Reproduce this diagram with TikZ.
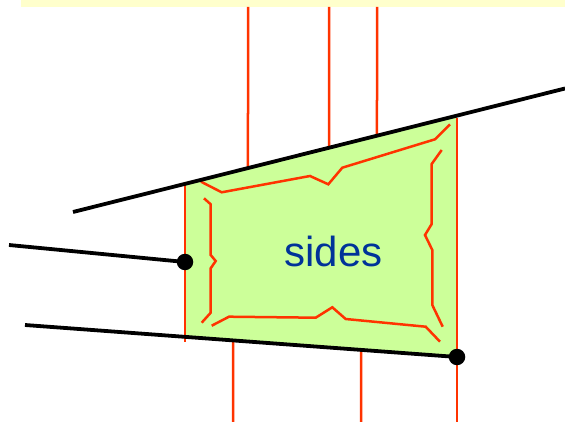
\documentclass[tikz,border=0pt]{standalone}
\usepackage{fontspec}
\setmainfont{Liberation Sans}
\usetikzlibrary{calc}
\definecolor{redl}{RGB}{255,51,0}
\definecolor{greenf}{RGB}{204,255,153}
\definecolor{yellowf}{RGB}{255,255,204}
\definecolor{bluet}{RGB}{0,51,153}
\begin{document}
\begin{tikzpicture}[x=1pt,y=-1pt,
  blackline/.style={line width=3.8pt,black},
  redline/.style={line width=2.5pt,redl},
  dotnode/.style={circle,fill=black,inner sep=0pt,minimum size=16.5pt}]
\useasboundingbox (0,0) rectangle (565,422);
% yellow band
\fill[yellowf] (21,0) rectangle (565,7);
% main line end points
\coordinate (U1) at (73,212);
\coordinate (U2) at (565,88.5);
\coordinate (L1) at (25,325);
\coordinate (M1) at (9,245);
% corners of the green region
\coordinate (GTL) at ($(U1)!{(185-73)/(565-73)}!(U2)$);
\coordinate (GTR) at ($(U1)!{(457-73)/(565-73)}!(U2)$);
\coordinate (GBR) at (457,357);
\coordinate (GBL) at ($(L1)!{(185-25)/(457-25)}!(GBR)$);
\fill[greenf] (GTL) -- (GTR) -- (GBR) -- (GBL) -- cycle;
% top red lines
\coordinate (T1) at (248,7);
\coordinate (T2) at (329,7);
\coordinate (T3) at (377,7);
\coordinate (T1e) at ($(U1)!{(248-73)/(565-73)}!(U2)$);
\coordinate (T2e) at ($(U1)!{(329-73)/(565-73)}!(U2)$);
\coordinate (T3e) at ($(U1)!{(377-73)/(565-73)}!(U2)$);
\draw[redline] (T1) -- (T1e);
\draw[redline] (T2) -- (T2e);
\draw[redline] (T3) -- (T3e);
% bottom red lines
\coordinate (B1) at ($(L1)!{(233-25)/(457-25)}!(GBR)$);
\coordinate (B2) at ($(L1)!{(361-25)/(457-25)}!(GBR)$);
\coordinate (B1e) at (233,422);
\coordinate (B2e) at (361,422);
\draw[redline] (B1) -- (B1e);
\draw[redline] (B2) -- (B2e);
% side red lines
\coordinate (SL1) at (185,183);
\coordinate (SL2) at (185,342);
\coordinate (SR1) at (457,118);
\coordinate (SR2) at (457,422);
\draw[redline] (SL1) -- (SL2);
\draw[redline] (SR1) -- (SR2);
% inner contours
\draw[redline] (201,181.7) -- (221.7,192.3) -- (310,176) -- (328.3,184.3) -- (342.3,167.7) -- (435,139.3) -- (450,124.3);
\draw[redline] (441.7,150) -- (431.7,164) -- (431.7,224) -- (425,235) -- (432.3,250) -- (432.3,305) -- (442.7,326.7);
\draw[redline] (211.7,325.7) -- (229,316.7) -- (315.7,317.7) -- (332.3,307.3) -- (345.7,319) -- (425.7,326.7) -- (440,341.7);
\draw[redline] (204,198.3) -- (210.7,204.3) -- (210.7,255) -- (215.7,261) -- (210.7,268.3) -- (210.7,312.7) -- (201.7,322.7);
% black lines
\node[dotnode] (D1) at (185,262) {};
\node[dotnode] (D2) at (GBR) {};
\draw[blackline] (U1) -- (U2);
\draw[blackline] (L1) -- (D2.center);
\draw[blackline] (M1) -- (D1.center);
% label
\node[text=bluet,font=\fontsize{42}{48}\selectfont,inner sep=0pt] (lbl) at (333.5,251.5) {sides};
\end{tikzpicture}
\end{document}
